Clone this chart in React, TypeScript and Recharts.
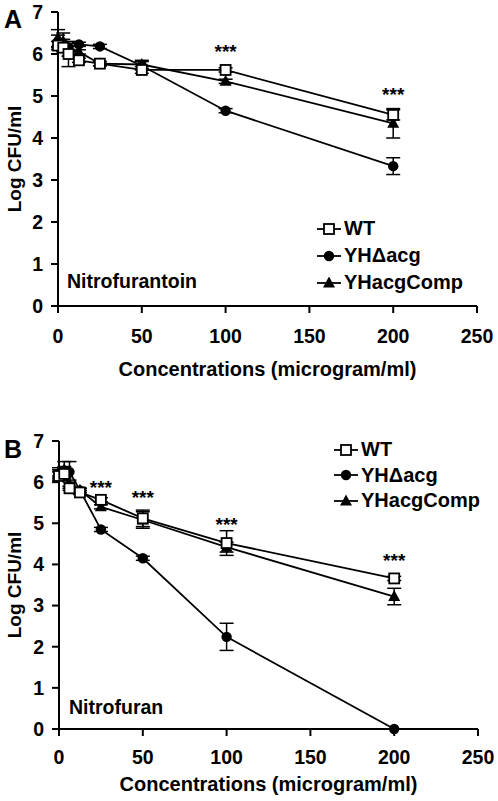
import { LineChart, Line, XAxis, YAxis, ErrorBar, ReferenceDot, Legend } from 'recharts';

const FONT = '"Liberation Sans", Arial, sans-serif';

// concentrations (microgram/ml)
const conc = [0, 3.125, 6.25, 12.5, 25, 50, 100, 200];

// Panel A - Nitrofurantoin
const wtA = [6.2, 6.15, 6.0, 5.85, 5.77, 5.62, 5.62, 4.55];
const wtAErr = [0.1, 0.1, 0.3, 0.05, 0.05, 0.08, 0.05, 0.12];
const koA = [6.3, 6.25, 6.15, 6.23, 6.18, 5.72, 4.65, 3.33];
const koAErr = [0.15, 0.1, 0.1, 0.05, 0.05, 0.1, 0.05, 0.2];
const compA = [6.38, 6.3, 6.1, 6.05, 5.77, 5.75, 5.35, 4.35];
const compAErr = [0.2, 0.2, 0.15, 0.05, 0.05, 0.1, 0.05, 0.35];
const starsAX = [100, 200];
const starsAY = [6.06, 5.04];

// Panel B - Nitrofuran
const wtB = [6.15, 6.2, 5.85, 5.75, 5.57, 5.12, 4.52, 3.66];
const wtBErr = [0.1, 0.1, 0.05, 0.05, 0.05, 0.2, 0.3, 0.05];
const koB = [6.2, 6.28, 6.25, 5.8, 4.85, 4.15, 2.24, 0];
const koBErr = [0.1, 0.1, 0.25, 0.05, 0.05, 0.05, 0.33, 0];
const compB = [6.25, 6.3, 5.95, 5.8, 5.4, 5.08, 4.42, 3.22];
const compBErr = [0.1, 0.2, 0.1, 0.05, 0.05, 0.2, 0.12, 0.2];
const starsBX = [25, 50, 100, 200];
const starsBY = [5.87, 5.63, 4.98, 4.09];

const xTicks = [0, 50, 100, 150, 200, 250];
const yTicks = [0, 1, 2, 3, 4, 5, 6, 7];

const seriesNames = ['WT', 'YHΔacg', 'YHacgComp'];

const buildRows = (wt: number[], wtErr: number[], ko: number[], koErr: number[], comp: number[], compErr: number[]) =>
  conc.map((x, i) => ({ x, wt: wt[i], wtErr: wtErr[i], ko: ko[i], koErr: koErr[i], comp: comp[i], compErr: compErr[i] }));

const rowsA = buildRows(wtA, wtAErr, koA, koAErr, compA, compAErr);
const rowsB = buildRows(wtB, wtBErr, koB, koBErr, compB, compBErr);

const SquareDot = (p: any) =>
  p.cx == null ? null : (
    <rect key={`s${p.index}`} x={p.cx - 5} y={p.cy - 5} width={10} height={10} fill="#fff" stroke="#000" strokeWidth={1.8} />
  );
const CircleDot = (p: any) =>
  p.cx == null ? null : <circle key={`c${p.index}`} cx={p.cx} cy={p.cy} r={5.2} fill="#000" />;
const TriDot = (p: any) =>
  p.cx == null ? null : (
    <path key={`t${p.index}`} d={`M${p.cx},${p.cy - 6.5} L${p.cx + 6},${p.cy + 4.5} L${p.cx - 6},${p.cy + 4.5} Z`} fill="#000" />
  );

const LegendIcon = ({ kind }: { kind: number }) => (
  <svg width={24} height={14} style={{ marginRight: 3, flex: 'none' }}>
    <line x1={0} y1={7} x2={24} y2={7} stroke="#000" strokeWidth={1.8} />
    {kind === 0 && <rect x={7} y={2} width={10} height={10} fill="#fff" stroke="#000" strokeWidth={1.8} />}
    {kind === 1 && <circle cx={12} cy={7} r={5.2} fill="#000" />}
    {kind === 2 && <path d="M12,0.5 L18,11.5 L6,11.5 Z" fill="#000" />}
  </svg>
);

const makeLegend = (rowH: number) => () => (
  <div style={{ fontFamily: FONT, fontWeight: 'bold', fontSize: 20, color: '#000' }}>
    {seriesNames.map((n, i) => (
      <div key={n} style={{ display: 'flex', alignItems: 'center', height: rowH }}>
        <LegendIcon kind={i} />
        <span>{n}</span>
      </div>
    ))}
  </div>
);

interface PanelProps {
  rows: typeof rowsA;
  starsX: number[];
  starsY: number[];
  height: number;
  margin: { top: number; right: number; bottom: number; left: number };
  yWidth: number;
  xHeight: number;
  tickGap: number;
  legendPos: { left: number; top: number };
  legendRow: number;
}

const tickStyle = { fontFamily: FONT, fontWeight: 'bold' as const, fontSize: 19.5, fill: '#000' };

const Panel = ({ rows, starsX, starsY, height, margin, yWidth, xHeight, tickGap, legendPos, legendRow }: PanelProps) => (
  <LineChart width={498} height={height} data={rows} margin={margin}>
    <XAxis
      dataKey="x"
      type="number"
      domain={[0, 250]}
      ticks={xTicks}
      height={xHeight}
      axisLine={{ stroke: '#000', strokeWidth: 2 }}
      tickLine={{ stroke: '#000', strokeWidth: 2 }}
      tickSize={7}
      tickMargin={tickGap}
      tick={tickStyle}
      label={{
        value: 'Concentrations (microgram/ml)',
        position: 'insideBottom',
        offset: 2,
        style: { fontFamily: FONT, fontWeight: 'bold', fontSize: 20, fill: '#000' },
      }}
    />
    <YAxis
      type="number"
      domain={[0, 7]}
      ticks={yTicks}
      width={yWidth}
      axisLine={{ stroke: '#000', strokeWidth: 2 }}
      tickLine={{ stroke: '#000', strokeWidth: 2 }}
      tickSize={7}
      tickMargin={8}
      tick={tickStyle}
      label={{
        value: 'Log CFU/ml',
        angle: -90,
        position: 'insideLeft',
        offset: 14,
        style: { fontFamily: FONT, fontWeight: 'bold', fontSize: 19, fill: '#000', textAnchor: 'middle' },
      }}
    />
    <Legend
      layout="vertical"
      align="center"
      verticalAlign="middle"
      content={makeLegend(legendRow)}
      wrapperStyle={{ left: legendPos.left, top: legendPos.top, width: 180 }}
    />
    <Line dataKey="ko" stroke="#000" strokeWidth={1.8} dot={CircleDot} activeDot={false} isAnimationActive={false}>
      <ErrorBar dataKey="koErr" width={7} strokeWidth={1.5} stroke="#000" direction="y" />
    </Line>
    <Line dataKey="comp" stroke="#000" strokeWidth={1.8} dot={TriDot} activeDot={false} isAnimationActive={false}>
      <ErrorBar dataKey="compErr" width={7} strokeWidth={1.5} stroke="#000" direction="y" />
    </Line>
    <Line dataKey="wt" stroke="#000" strokeWidth={1.8} dot={SquareDot} activeDot={false} isAnimationActive={false}>
      <ErrorBar dataKey="wtErr" width={7} strokeWidth={1.5} stroke="#000" direction="y" />
    </Line>
    {starsX.map((sx, i) => (
      <ReferenceDot
        key={sx}
        x={sx}
        y={starsY[i]}
        r={0}
        fill="none"
        stroke="none"
        label={{ value: '***', position: 'center', style: { fontFamily: FONT, fontWeight: 'bold', fontSize: 19, fill: '#000' } }}
      />
    ))}
  </LineChart>
);

export default function App() {
  return (
    <div style={{ position: 'absolute', left: 0, top: 0, width: 498, height: 801, background: '#fff' }}>
      <div style={{ position: 'absolute', left: 0, top: 0 }}>
        <Panel
          rows={rowsA}
          starsX={starsAX}
          starsY={starsAY}
          height={380}
          margin={{ top: 12, right: 21, bottom: 2, left: 0 }}
          yWidth={58}
          xHeight={72}
          tickGap={16}
          legendPos={{ left: 317, top: 215 }}
          legendRow={27}
        />
      </div>
      <div style={{ position: 'absolute', left: 0, top: 430 }}>
        <Panel
          rows={rowsB}
          starsX={starsBX}
          starsY={starsBY}
          height={365}
          margin={{ top: 11, right: 20, bottom: 2, left: 0 }}
          yWidth={59}
          xHeight={64}
          tickGap={14}
          legendPos={{ left: 334, top: 7 }}
          legendRow={25.5}
        />
      </div>
      <svg width={498} height={801} style={{ position: 'absolute', left: 0, top: 0, pointerEvents: 'none' }}>
        <g fontFamily={FONT} fontWeight="bold" fill="#000">
          <text x={4} y={28} fontSize={25}>A</text>
          <text x={4} y={458} fontSize={25}>B</text>
          <text x={67} y={288} fontSize={19.5}>Nitrofurantoin</text>
          <text x={69} y={714} fontSize={19.5}>Nitrofuran</text>
        </g>
      </svg>
    </div>
  );
}
